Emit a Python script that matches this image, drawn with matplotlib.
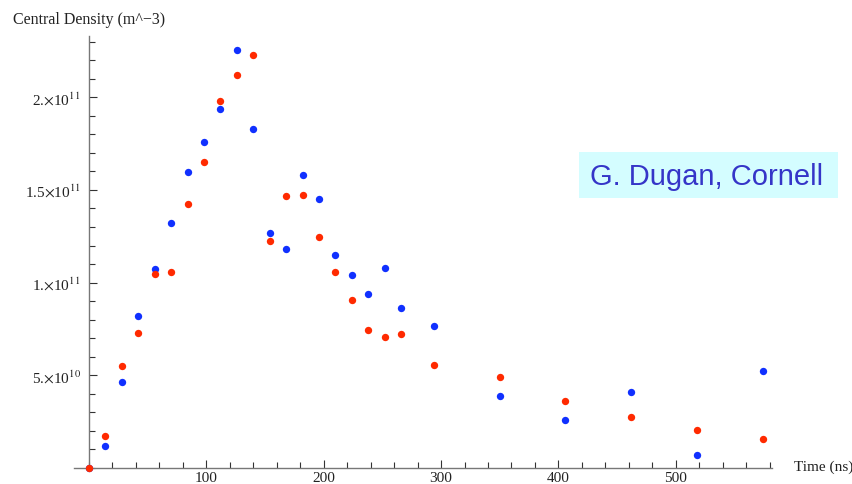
import numpy as np
import matplotlib
matplotlib.use("Agg")
from matplotlib import pyplot as plt
from matplotlib.ticker import MultipleLocator, FixedLocator, FixedFormatter
from matplotlib.patches import Rectangle

plt.rcParams['font.family'] = ['Liberation Serif', 'DejaVu Serif']
plt.rcParams['mathtext.fontset'] = 'stix'

# time in ns
time_ns = [0, 14, 28, 42, 56, 70, 84, 98, 112, 126, 140, 154, 168, 182, 196,
           210, 224, 238, 252, 266, 294, 350, 406, 462, 518, 574]

# central density, units of 1e9 m^-3
density_red = [0, 17.4, 55.2, 72.8, 104.6, 105.6, 142.4, 164.9, 198.1, 212.0,
               222.8, 122.6, 146.9, 147.4, 124.4, 105.9, 90.8, 74.6, 70.5, 72.3,
               55.6, 49.3, 36.3, 27.7, 20.5, 15.6]
density_blue = [0, 12.0, 46.2, 82.2, 107.3, 132.0, 159.8, 175.7, 193.6, 225.6,
                182.8, 126.9, 118.0, 157.9, 144.9, 114.9, 103.9, 93.9, 108.0, 86.5,
                76.8, 39.0, 25.9, 41.2, 7.0, 52.5]

y_ticks = [5e10, 1e11, 1.5e11, 2e11]
y_tick_labels = [r"5.$\times$10$^{10}$", r"1.$\times$10$^{11}$",
                 r"1.5$\times$10$^{11}$", r"2.$\times$10$^{11}$"]
x_ticks = [100, 200, 300, 400, 500]

W, H = 853, 485
fig = plt.figure(figsize=(W / 100, H / 100), dpi=100)
ax = fig.add_axes([73.7 / W, 16 / H, (772 - 73.7) / W, (469 - 37) / H])

t = np.array(time_ns)
ax.scatter(t, np.array(density_blue) * 1e9, s=28, color='#1030ff', zorder=3,
           clip_on=False, linewidths=0)
ax.scatter(t, np.array(density_red) * 1e9, s=28, color='#ff2a00', zorder=4,
           clip_on=False, linewidths=0)

ax.set_xlim(-13, 582)
ax.set_ylim(0, 233e9)

for s in ['top', 'right']:
    ax.spines[s].set_visible(False)
ax.spines['left'].set_position(('data', 0))
for s in ['left', 'bottom']:
    ax.spines[s].set_color('#777777')
    ax.spines[s].set_linewidth(1.0)

ax.xaxis.set_major_locator(FixedLocator(x_ticks))
ax.xaxis.set_minor_locator(MultipleLocator(20))
ax.yaxis.set_major_locator(FixedLocator(y_ticks))
ax.yaxis.set_major_formatter(FixedFormatter(y_tick_labels))
ax.yaxis.set_minor_locator(MultipleLocator(1e10))

ax.tick_params(which='both', direction='in', color='#333333', width=0.8,
               labelsize=11, labelcolor='#222222')
ax.tick_params(which='major', length=6)
ax.tick_params(which='minor', length=4)
ax.tick_params(axis='x', pad=2)
ax.tick_params(axis='y', pad=6)

fig.text(13 / W, 1 - 20 / H, "Central Density (m^\u22123)", fontsize=11.5,
         color='#222222', va='center', ha='left')
fig.text(794 / W, 1 - 467 / H, "Time (ns)", fontsize=11, color='#222222',
         va='center', ha='left')

# credit box
fig.patches.append(Rectangle((579 / W, 1 - 199 / H), (838 - 579) / W, 46 / H,
                             transform=fig.transFigure, facecolor='#d4fdff',
                             edgecolor='none', zorder=5))
fig.text(707 / W, 1 - 177 / H, "G. Dugan, Cornell", fontsize=21,
         family='Liberation Sans', color='#3535c8', ha='center', va='center',
         zorder=6)

fig.savefig('out.png', dpi=100)
